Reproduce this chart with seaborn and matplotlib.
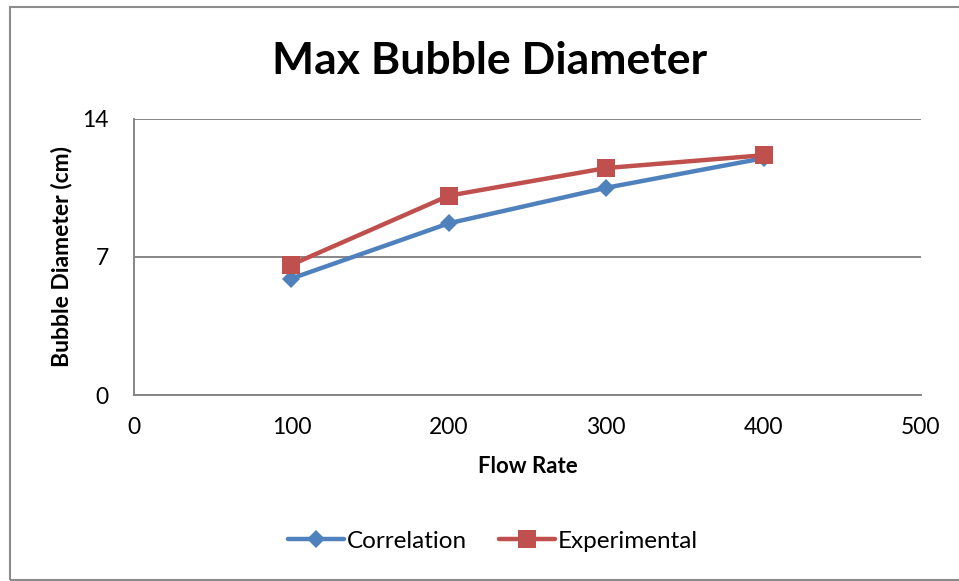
import matplotlib
matplotlib.use("Agg")
import matplotlib.pyplot as plt
from matplotlib.patches import Rectangle
import pandas as pd
import seaborn as sns

# Data
flow_rate = [100, 200, 300, 400]
correlation = [5.9, 8.7, 10.5, 12.0]
experimental = [6.6, 10.1, 11.5, 12.15]
series_names = ["Correlation", "Experimental"]
x_ticks = [0, 100, 200, 300, 400, 500]
y_ticks = [0, 7, 14]

df = pd.DataFrame({
    "Flow Rate": flow_rate * 2,
    "Bubble Diameter (cm)": correlation + experimental,
    "Series": [series_names[0]] * len(flow_rate) + [series_names[1]] * len(flow_rate),
})

sns.set_theme(style="white")
plt.rcParams["font.family"] = ["Lato", "DejaVu Sans"]
plt.rcParams["text.color"] = "black"

fig = plt.figure(figsize=(9.59, 5.81), dpi=100)
ax = fig.add_axes([0.1397, 0.3201, 0.8207, 0.4756])

blue = "#4F81BD"
red = "#C0504D"
grid_c = "#868686"

sns.lineplot(
    data=df, x="Flow Rate", y="Bubble Diameter (cm)", hue="Series", style="Series",
    palette={series_names[0]: blue, series_names[1]: red},
    markers={series_names[0]: "D", series_names[1]: "s"},
    dashes=False, linewidth=3.2, markeredgewidth=0, ax=ax, legend=True,
)
for line in ax.get_lines():
    if line.get_marker() == "D":
        line.set_markersize(9.5)
    elif line.get_marker() == "s":
        line.set_markersize(12.5)
    line.set_zorder(3)

ax.set_xlim(0, 500)
ax.set_ylim(0, 14)
ax.set_xticks(x_ticks)
ax.set_yticks(y_ticks)
ax.yaxis.grid(True, color=grid_c, linewidth=1.4)
ax.set_axisbelow(True)
for s in ["top", "right"]:
    ax.spines[s].set_visible(False)
for s in ["left", "bottom"]:
    ax.spines[s].set_color(grid_c)
    ax.spines[s].set_linewidth(1.4)
ax.tick_params(axis="both", which="major", direction="out", length=5, width=1.2,
               color=grid_c, labelsize=16.5, labelcolor="black")
ax.tick_params(axis="x", pad=11)
ax.tick_params(axis="y", pad=13)
ax.set_xlabel("Flow Rate", fontsize=16, fontweight="bold", labelpad=13, color="black")
ax.set_ylabel("Bubble Diameter (cm)", fontsize=16.5, fontweight="bold", labelpad=7,
              color="black")

fig.suptitle("Max Bubble Diameter", x=0.511, y=0.93, fontsize=32, fontweight="bold",
             color="black")

handles, labels = ax.get_legend_handles_labels()
ax.get_legend().remove()
fig.legend(handles, labels, loc="center", bbox_to_anchor=(0.514, 0.068), ncol=2,
           frameon=False, fontsize=17.5, handlelength=2.3, handletextpad=0.12,
           columnspacing=1.3)

# chart-area border
fig.patches.append(Rectangle((9.5 / 959, 1 / 581), 1.0, 1 - 7.5 / 581,
                             transform=fig.transFigure, fill=False,
                             edgecolor="#8c8c8c", linewidth=1.5))

fig.savefig("out.png", dpi=100)
